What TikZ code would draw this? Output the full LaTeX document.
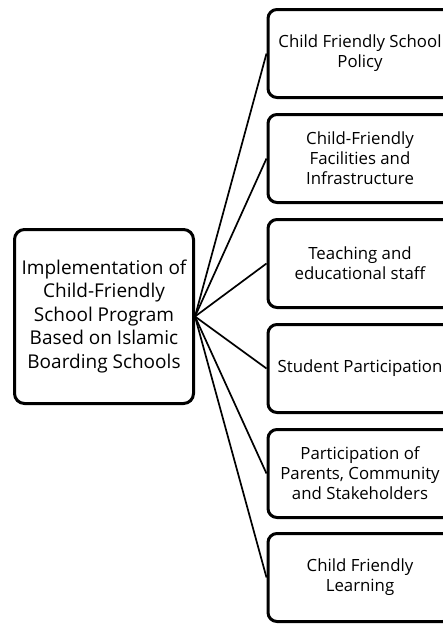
\documentclass[tikz,border=0pt]{standalone}
\usepackage{fontspec}
\setmainfont{Open Sans}

\begin{document}
\begin{tikzpicture}[x=1pt,y=-1pt,
    mainbox/.style={draw,line width=3pt,rounded corners=10pt,align=center,
        minimum width=179pt,minimum height=174pt,inner sep=1pt,
        font=\fontsize{19}{23.5}\selectfont},
    aspectbox/.style={draw,line width=3pt,rounded corners=9pt,align=center,
        minimum width=184pt,minimum height=88pt,inner sep=1pt,
        font=\fontsize{16.8}{20}\selectfont},
    link/.style={line width=1.7pt}]

    % fix the page size
    \useasboundingbox (0,0) rectangle (443,624);

    % central box
    \node[mainbox] (program) at (104,316.5) {Implementation of\\Child-Friendly\\School Program\\Based on Islamic\\Boarding Schools};

    % aspect boxes
    \node[aspectbox] (aspect1) at (360,53.5)  {Child Friendly School\\Policy};
    \node[aspectbox] (aspect2) at (360,158.5) {Child-Friendly\\Facilities and\\Infrastructure};
    \node[aspectbox] (aspect3) at (360,263.5) {Teaching and\\educational staff};
    \node[aspectbox] (aspect4) at (360,368.5) {Student Participation};
    \node[aspectbox] (aspect5) at (360,473.5) {Participation of\\Parents, Community\\and Stakeholders};
    \node[aspectbox] (aspect6) at (360,577.5) {Child Friendly\\Learning};

    % connectors
    \foreach \i in {1,...,6}
        \draw[link] (program.east) -- (aspect\i.west);

\end{tikzpicture}
\end{document}
